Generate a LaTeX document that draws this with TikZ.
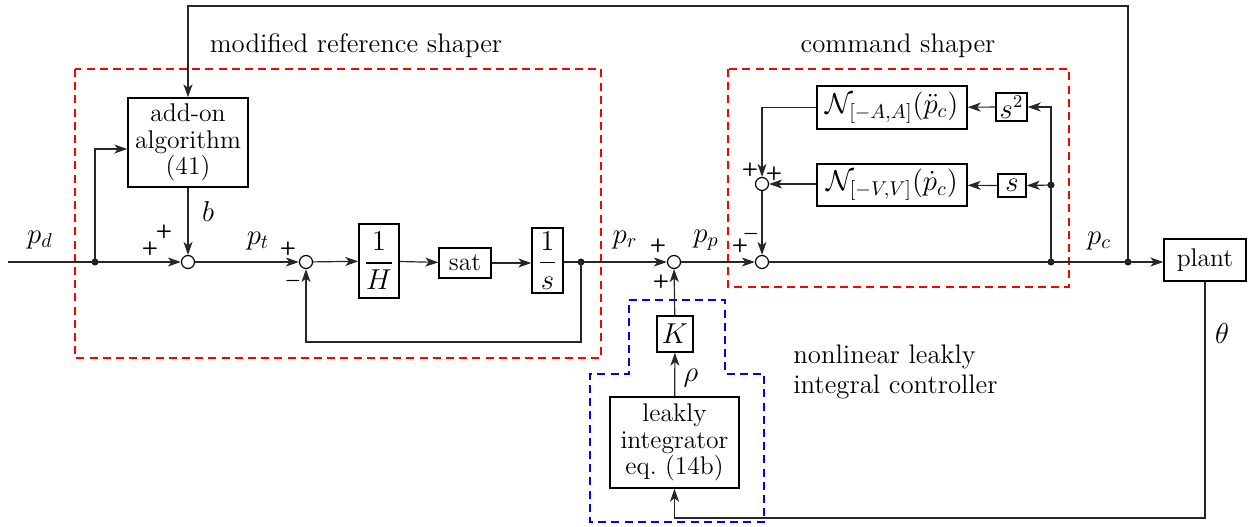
\documentclass[tikz,border=0pt]{standalone}
\usepackage{amsmath}
\usetikzlibrary{arrows.meta,calc}
\begin{document}
\begin{tikzpicture}[x=0.5pt,y=-0.5pt,
  every node/.style={font=\fontsize{12.8}{13.2}\selectfont},
  blk/.style={draw,line width=0.7pt,inner sep=1pt,align=center},
  mblk/.style={blk,font=\fontsize{15}{16}\selectfont},
  sblk/.style={blk,font=\fontsize{13.5}{14}\selectfont,inner sep=0pt},
  nblk/.style={blk,font=\fontsize{14}{15}\selectfont},
  sumc/.style={draw,circle,minimum size=6.5pt,inner sep=0pt,line width=0.6pt,fill=white},
  ln/.style={line width=0.6pt,draw=black!85},
  arr/.style={ln,-{Stealth[length=6.5pt,width=4.5pt,inset=1.8pt]}},
  dot/.style={circle,fill=black!90,inner sep=0pt,minimum size=3.5pt},
  sgn/.style={font=\fontsize{9.5}{9.5}\selectfont\sffamily\bfseries,inner sep=0pt},
  lab/.style={inner sep=0pt,font=\fontsize{14.5}{15}\selectfont},
  reddash/.style={draw=red,line width=1.2pt,dash pattern=on 4pt off 2.6pt},
  bluedash/.style={draw=blue,line width=1.1pt,dash pattern=on 4pt off 2.6pt},
  ttl/.style={font=\fontsize{13.4}{15}\selectfont,inner sep=0pt}
]
\useasboundingbox (0,0) rectangle (1248,526);

% dashed regions
\draw[reddash] (75,69) rectangle (601,358);
\draw[reddash] (728,69) rectangle (1069,287);
\draw[bluedash] (629,300) -- (725,300) -- (725,374) -- (764,374) -- (764,522) -- (590,522) -- (590,374) -- (629,374) -- cycle;

% titles
\node[ttl] (t1) at (356,46) {modified reference shaper};
\node[ttl] (t2) at (898,46) {command shaper};
\node[ttl,anchor=west,align=left] (t3) at (793,372) {nonlinear leakly\\integral controller};

% blocks
\node[blk,minimum width=60pt,minimum height=44.5pt] (addon) at (188,142.5) {add-on\\algorithm\\(41)};
\node[mblk,minimum width=20pt,minimum height=37pt] (H) at (379,261) {$\displaystyle\frac{1}{H}$};
\node[blk,minimum width=26pt,minimum height=15pt] (sat) at (465,263) {sat};
\node[mblk,minimum width=15.5pt,minimum height=32.5pt] (S) at (547.5,260.5) {$\displaystyle\frac{1}{s}$};
\node[mblk,minimum width=18pt,minimum height=18pt] (K) at (675,334) {$K$};
\node[blk,minimum width=64.5pt,minimum height=45.5pt] (leaky) at (674.5,442.5) {leakly\\integrator\\eq.\ (14b)};
\node[nblk,minimum width=75pt,minimum height=21.5pt] (NA) at (892,107.5) {$\mathcal{N}_{[-A,A]}(\ddot{p}_c)$};
\node[sblk,minimum width=15.5pt,minimum height=14pt] (sq) at (1011.5,107) {$s^2$};
\node[nblk,minimum width=75pt,minimum height=21pt] (NV) at (892,185) {$\mathcal{N}_{[-V,V]}(\dot{p}_c)$};
\node[sblk,minimum width=14pt,minimum height=11.5pt] (sb) at (1012,185.5) {$s$};
\node[blk,minimum width=41pt,minimum height=21pt] (plant) at (1205,260) {plant};

% summing junctions
\node[sumc] (s1) at (188,262) {};
\node[sumc] (s2) at (306,262) {};
\node[sumc] (s3) at (674,262) {};
\node[sumc] (s4) at (762,262) {};
\node[sumc] (s5) at (762,184) {};

% coordinates
\coordinate (pin) at (8,262);
\node[dot] (j1) at (95,262) {};
\node[dot] (j2) at (581,262) {};
\node[dot] (j3) at (1051,262) {};
\node[dot] (j4) at (1128,262) {};
\node[dot] (j5) at (1051,185) {};
\coordinate (top) at (0,6);
\coordinate (fb) at (0,342);
\coordinate (bot) at (0,518);

% connectors
\draw[arr] (pin) -- (s1);
\draw[arr] (j1.center) |- ([yshift=-3.25pt]addon.west);
\draw[arr] (addon) -- (s1);
\draw[arr] (s1) -- (s2);
\draw[arr] (s2) -- (H);
\draw[arr] (H) -- (sat);
\draw[arr] (sat) -- (S.west|-sat);
\draw[arr] (S.east|-s3) -- (s3);
\draw[arr] (j2.center) -- (j2|-fb) -| (s2);
\draw[arr] (s3) -- (s4);
\draw[arr] (leaky) -- (K);
\draw[arr] (K) -- (s3);
\draw[arr] (s4) -- (plant.west|-s4);
\draw[arr] (j4.center) |- (addon.north|-top) -- (addon.north);
\draw[arr] (j3.center) |- (sq.east);
\draw[arr] (j5.center) -- (sb.east);
\draw[arr] (sq) -- (NA);
\draw[arr] (sb) -- (NV);
\draw[arr] (NA.west) -| (s5);
\draw[arr] (NV.west|-s5) -- (s5);
\draw[arr] (s5) -- (s4);
\draw[arr] (plant.south) -- (plant.south|-bot) -| (leaky.south);

% signal labels
\node[lab] (lpd) at (40,240) {$p_d$};
\node[lab] (lpt) at (258,241) {$p_t$};
\node[lab] (lpr) at (625,240) {$p_r$};
\node[lab] (lpp) at (706,240) {$p_p$};
\node[lab] (lpc) at (1099,241) {$p_c$};
\node[lab] (lb) at (208,211) {$b$};
\node[lab] (lrho) at (691,378) {$\rho$};
\node[lab] (lth) at (1222,333) {$\theta$};

% signs
\node[sgn] (g1) at (164,232) {+};
\node[sgn] (g2) at (150,249) {+};
\node[sgn] (g3) at (288,249) {+};
\node[sgn] (g4) at (293,281) {$\boldsymbol{-}$};
\node[sgn] (g5) at (658,246) {+};
\node[sgn] (g6) at (661,282) {+};
\node[sgn] (g7) at (740,246) {+};
\node[sgn] (g8) at (751,234) {$\boldsymbol{-}$};
\node[sgn] (g9) at (750,170) {+};
\node[sgn] (g10) at (774,174) {+};
\end{tikzpicture}
\end{document}
